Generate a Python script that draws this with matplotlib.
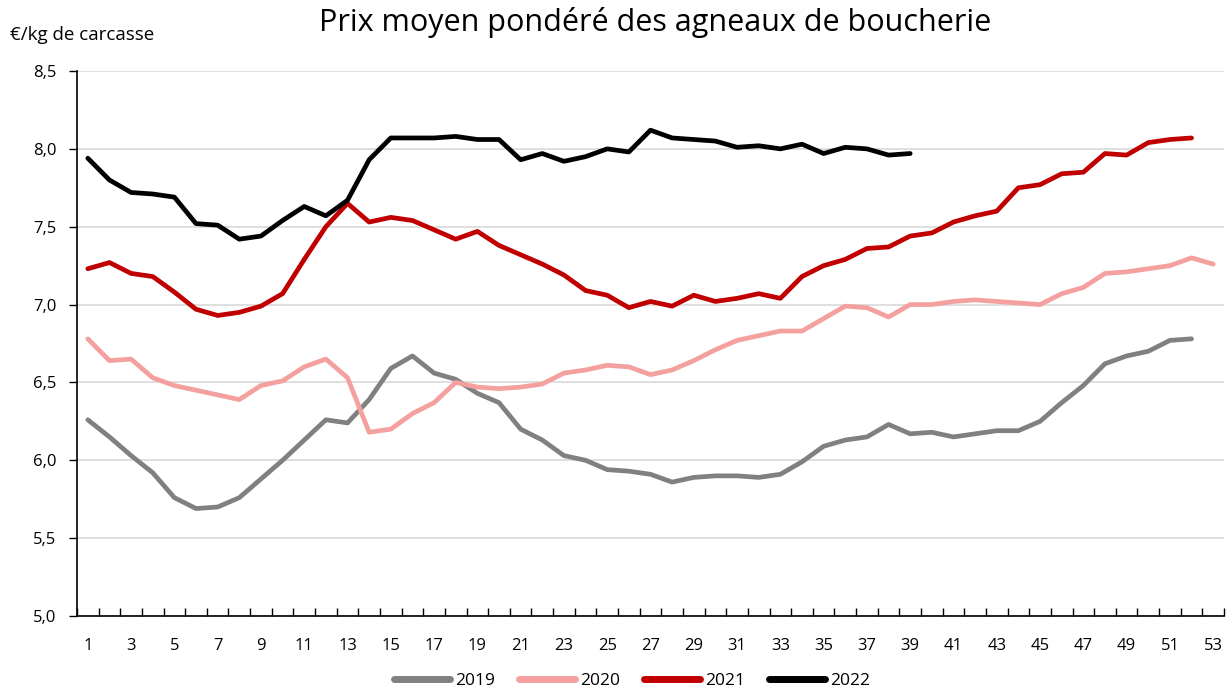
import matplotlib
matplotlib.use('Agg')
import matplotlib.pyplot as plt
from matplotlib.ticker import FuncFormatter, FixedLocator
import numpy as np

plt.rcParams['font.family'] = ['Open Sans', 'DejaVu Sans']

weeks = list(range(1, 54))

prix_2019 = [6.26, 6.15, 6.03, 5.92, 5.76, 5.69, 5.70, 5.76, 5.88, 6.00,
             6.13, 6.26, 6.24, 6.39, 6.59, 6.67, 6.56, 6.52, 6.43, 6.37,
             6.20, 6.13, 6.03, 6.00, 5.94, 5.93, 5.91, 5.86, 5.89, 5.90,
             5.90, 5.89, 5.91, 5.99, 6.09, 6.13, 6.15, 6.23, 6.17, 6.18,
             6.15, 6.17, 6.19, 6.19, 6.25, 6.37, 6.48, 6.62, 6.67, 6.70,
             6.77, 6.78]
prix_2020 = [6.78, 6.64, 6.65, 6.53, 6.48, 6.45, 6.42, 6.39, 6.48, 6.51,
             6.60, 6.65, 6.53, 6.18, 6.20, 6.30, 6.37, 6.50, 6.47, 6.46,
             6.47, 6.49, 6.56, 6.58, 6.61, 6.60, 6.55, 6.58, 6.64, 6.71,
             6.77, 6.80, 6.83, 6.83, 6.91, 6.99, 6.98, 6.92, 7.00, 7.00,
             7.02, 7.03, 7.02, 7.01, 7.00, 7.07, 7.11, 7.20, 7.21, 7.23,
             7.25, 7.30, 7.26]
prix_2021 = [7.23, 7.27, 7.20, 7.18, 7.08, 6.97, 6.93, 6.95, 6.99, 7.07,
             7.29, 7.50, 7.65, 7.53, 7.56, 7.54, 7.48, 7.42, 7.47, 7.38,
             7.32, 7.26, 7.19, 7.09, 7.06, 6.98, 7.02, 6.99, 7.06, 7.02,
             7.04, 7.07, 7.04, 7.18, 7.25, 7.29, 7.36, 7.37, 7.44, 7.46,
             7.53, 7.57, 7.60, 7.75, 7.77, 7.84, 7.85, 7.97, 7.96, 8.04,
             8.06, 8.07]
prix_2022 = [7.94, 7.80, 7.72, 7.71, 7.69, 7.52, 7.51, 7.42, 7.44, 7.54,
             7.63, 7.57, 7.67, 7.93, 8.07, 8.07, 8.07, 8.08, 8.06, 8.06,
             7.93, 7.97, 7.92, 7.95, 8.00, 7.98, 8.12, 8.07, 8.06, 8.05,
             8.01, 8.02, 8.00, 8.03, 7.97, 8.01, 8.00, 7.96, 7.97]

series = [('2019', prix_2019, '#808080'),
          ('2020', prix_2020, '#F4A09E'),
          ('2021', prix_2021, '#C00000'),
          ('2022', prix_2022, '#000000')]

fig = plt.figure(figsize=(12.28, 6.88), dpi=100)
ax = fig.add_axes([77/1228, 1 - 616/688, (1224-77)/1228, (616-71)/688])

for label, vals, col in series:
    ax.plot(weeks[:len(vals)], vals, color=col, lw=3.4, label=label,
            solid_capstyle='round', solid_joinstyle='round')

ax.set_xlim(0.5, 53.5)
ax.set_ylim(5.0, 8.5)
ax.set_yticks(np.arange(5.0, 8.51, 0.5))
ax.yaxis.set_major_formatter(FuncFormatter(lambda v, p: f'{v:.1f}'.replace('.', ',')))
ax.grid(axis='y', color='#d9d9d9', lw=1.2)
ax.set_axisbelow(True)

ax.xaxis.set_major_locator(FixedLocator(weeks[::2]))
ax.xaxis.set_minor_locator(FixedLocator(np.arange(0.5, 54, 1.0)))
ax.tick_params(axis='x', which='major', length=0, pad=16, labelsize=12)
ax.tick_params(axis='x', which='minor', direction='in', length=6, width=1)
ax.tick_params(axis='y', which='major', direction='out', length=6, width=1, pad=9, labelsize=12)

for s in ['top', 'right']:
    ax.spines[s].set_visible(False)
ax.spines['left'].set_linewidth(1.2)
ax.spines['bottom'].set_linewidth(1.2)

fig.text(10/1228, 1 - 35/688, '€/kg de carcasse', fontsize=13.5, va='center', ha='left')
fig.text(655/1228, 1 - 22/688, 'Prix moyen pondéré des agneaux de boucherie',
         fontsize=22, ha='center', va='center')

fig.legend(loc='center', bbox_to_anchor=(632/1228, 1 - 681/688), ncol=4, frameon=False,
           fontsize=12.5, handlelength=3.2, columnspacing=1.4, handletextpad=0.3)
for line in fig.legends[0].get_lines():
    line.set_linewidth(5)

fig.savefig('out.png', dpi=100)
